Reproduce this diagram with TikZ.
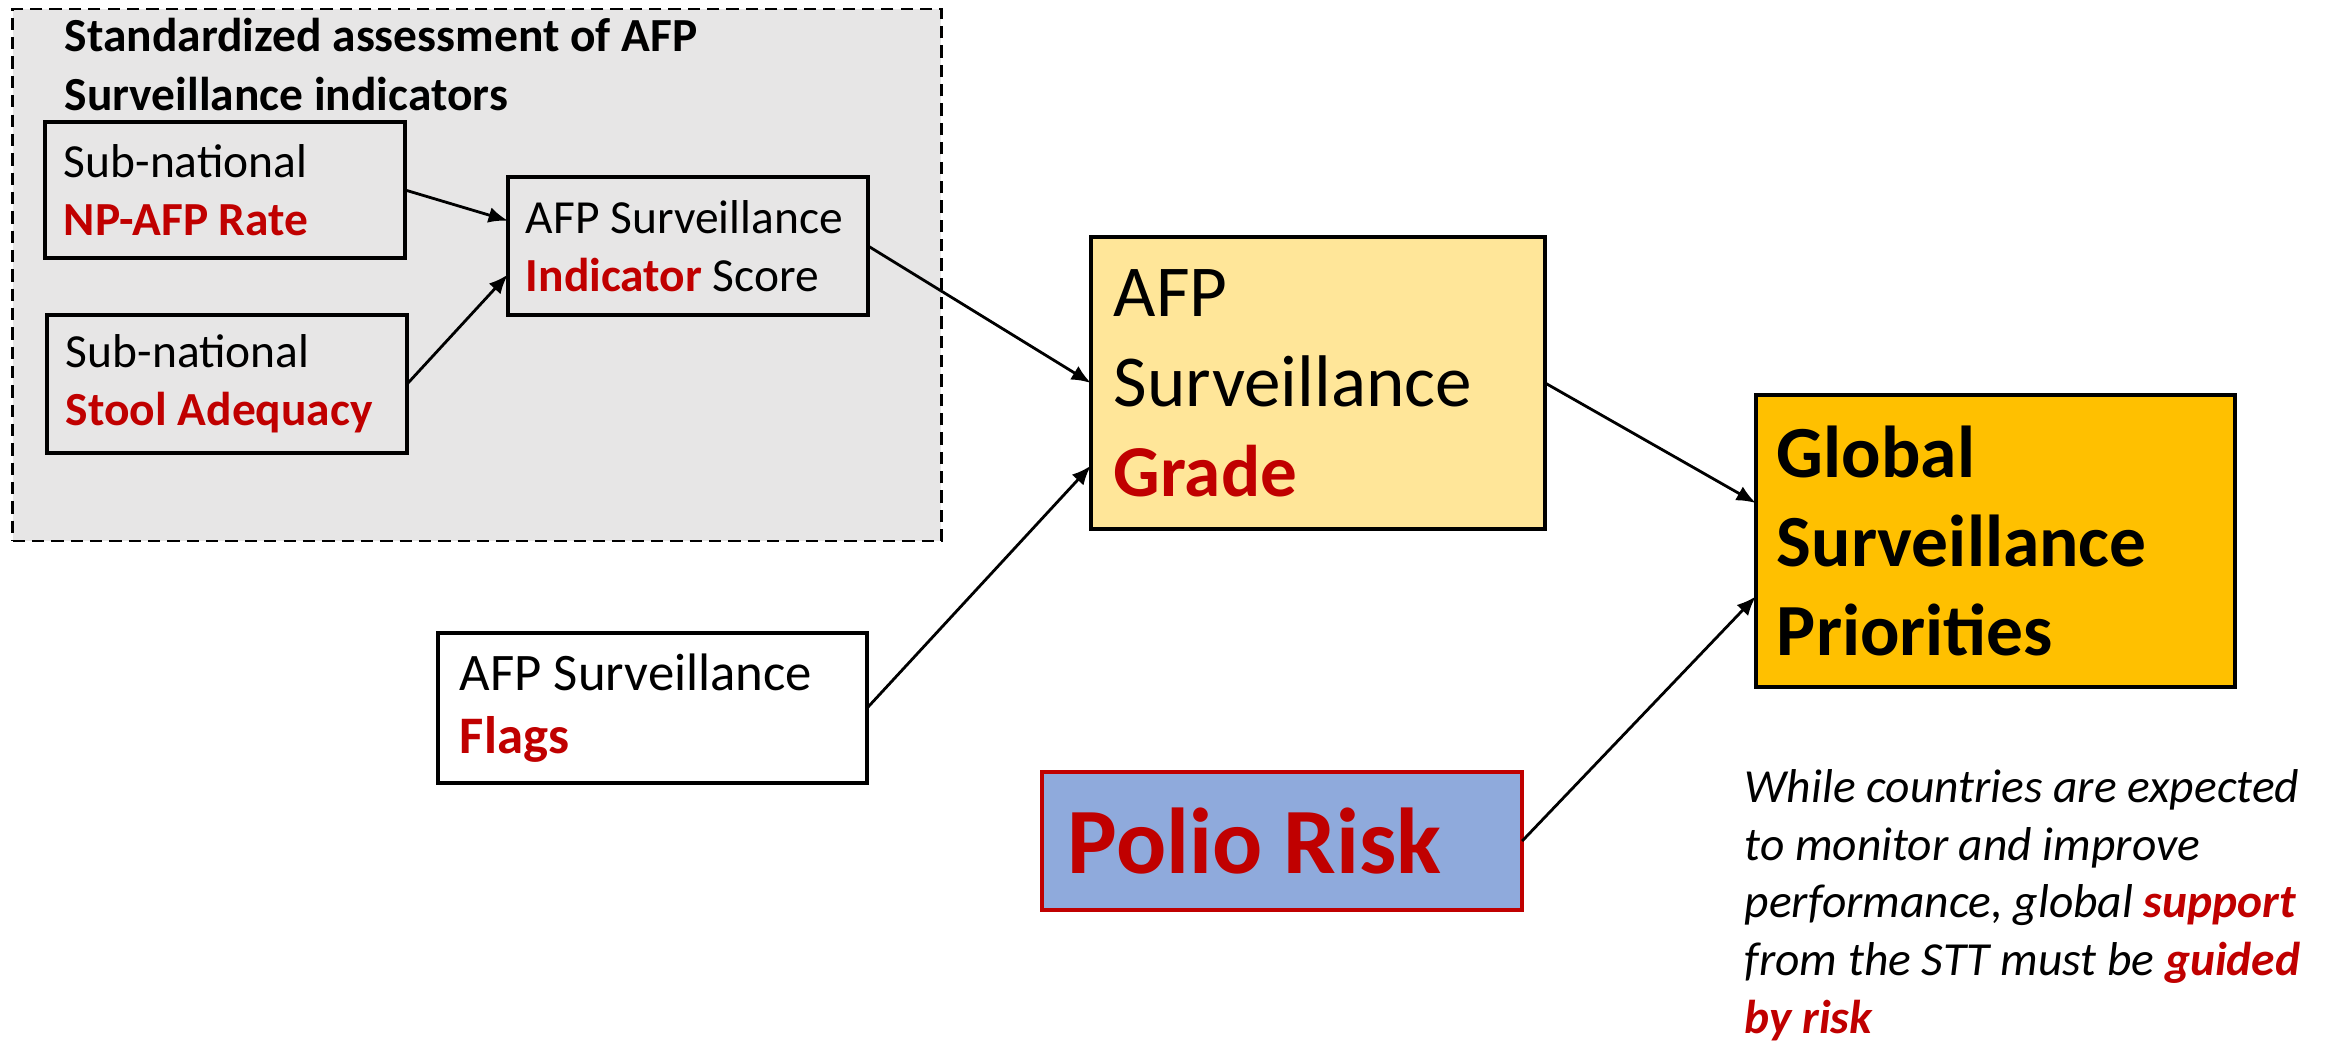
\documentclass[tikz,border=0pt]{standalone}
\usepackage{fontspec}
\setmainfont{Carlito}
\usetikzlibrary{arrows.meta}
\definecolor{hired}{HTML}{C00000}
\definecolor{grpgray}{HTML}{E7E6E6}
\definecolor{gradefill}{HTML}{FFE699}
\definecolor{globfill}{HTML}{FFC000}
\definecolor{polfill}{HTML}{8FAADC}
\begin{document}
\begin{tikzpicture}[x=0.01cm,y=-0.01cm,
  box/.style={draw,line width=1pt,align=flush left,inner ysep=0pt,outer sep=0pt},
  sm/.style={font=\fontsize{13.5}{16.5}\selectfont},
  ar/.style={-{Latex[length=5.5pt,width=4.5pt]},line width=0.8pt}]
\useasboundingbox (0,0) rectangle (2334,1045);
\node (Q0) [draw,line width=0.75pt,dash pattern=on 3.5pt off 2pt,fill=grpgray,minimum width=9.28cm,minimum height=5.32cm,outer sep=0pt] at (477,275) {};
\node (T0) [font=\fontsize{13.5}{16.5}\selectfont\bfseries,align=left,anchor=base west,inner sep=0pt] at (64,110) {Standardized assessment of AFP\\Surveillance indicators};

\node (NP) [box,sm,text width=3.22cm,inner xsep=0.19cm,minimum height=1.36cm] at (225,190) {Sub-national\\\textcolor{hired}{\textbf{NP-AFP Rate}}};
\node (ST) [box,sm,text width=3.22cm,inner xsep=0.19cm,minimum height=1.38cm] at (227,384) {Sub-national\\\textcolor{hired}{\textbf{Stool Adequacy}}};
\node (IS) [box,sm,text width=3.24cm,inner xsep=0.18cm,minimum height=1.38cm] at (688,246) {AFP Surveillance\\\textcolor{hired}{\textbf{Indicator}} Score};

\node (GR) [box,fill=gradefill,font=\fontsize{20.8}{25.6}\selectfont,text width=4.08cm,inner xsep=0.23cm,minimum height=2.92cm] at (1318,383) {AFP\\Surveillance\\\textcolor{hired}{\textbf{Grade}}};
\node (FL) [box,font=\fontsize{15}{17.9}\selectfont,text width=3.85cm,inner xsep=0.22cm,minimum height=1.5cm] at (652.5,708) {AFP Surveillance\\\textcolor{hired}{\textbf{Flags}}};
\node (GP) [box,fill=globfill,font=\fontsize{20.9}{25.3}\selectfont\bfseries,text width=4.37cm,inner xsep=0.21cm,minimum height=2.92cm] at (1995.5,541) {Global\\Surveillance\\Priorities};
\node (PR) [box,draw=hired,fill=polfill,text=hired,font=\fontsize{26.6}{32}\selectfont\bfseries,text width=4.28cm,inner xsep=0.26cm,minimum height=1.38cm] at (1282,841) {Polio Risk};

\node (NT) [font=\fontsize{13.5}{16.4}\selectfont\itshape,align=left,anchor=base west,inner sep=0pt] at (1744,1033) {While countries are expected\\to monitor and improve\\performance, global \textcolor{hired}{\textbf{support}}\\from the STT must be \textcolor{hired}{\textbf{guided}}\\\textcolor{hired}{\textbf{by risk}}};

\draw[ar] (NP.east)--(IS.172);
\draw[ar] (ST.east)--(IS.189);
\draw[ar] (IS.east)--(GR.west);
\draw[ar] (FL.east)--(GR.200);
\draw[ar] (GR.east)--(GP.171);
\draw[ar] (PR.east)--(GP.193);
\end{tikzpicture}
\end{document}
